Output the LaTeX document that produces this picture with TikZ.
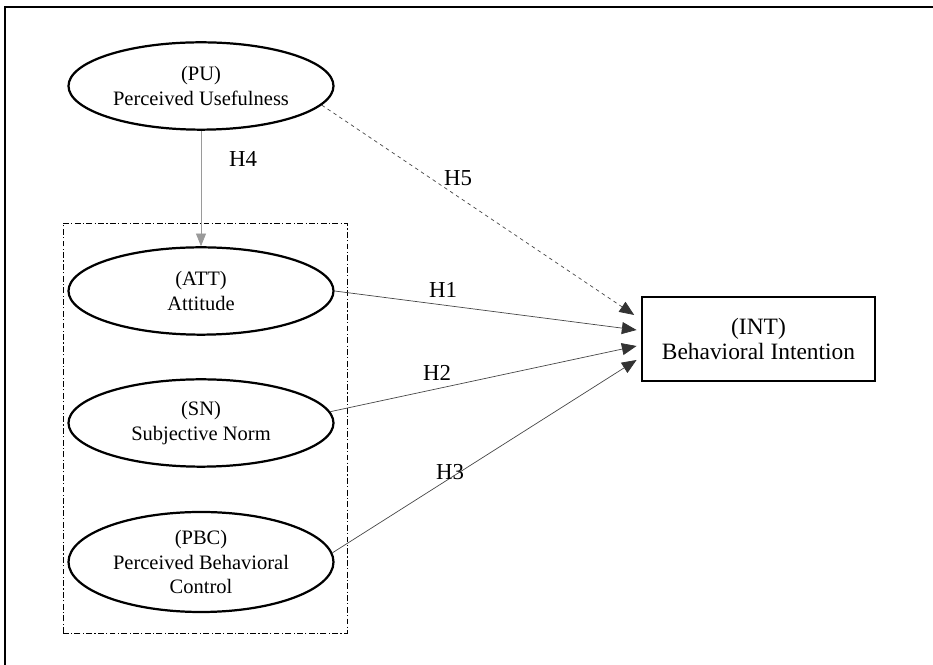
\documentclass[tikz,border=0pt]{standalone}
\usepackage{fontspec}
\setmainfont{Liberation Serif}
\usetikzlibrary{shapes.geometric, arrows.meta}

\definecolor{linegray}{HTML}{474747}
\definecolor{tipgray}{HTML}{333333}
\definecolor{lightgray}{HTML}{9A9A9A}

\tikzset{
    construct/.style={draw, ellipse, line width=1.9pt, minimum width=7.95cm, minimum height=2.62cm,
        inner sep=0pt, align=center, font=\fontsize{17.5}{21}\selectfont},
    outcome/.style={draw, rectangle, line width=1.9pt, minimum width=6.99cm, minimum height=2.52cm,
        align=center, font=\fontsize{20}{21.5}\selectfont},
    link/.style={draw=linegray, line width=0.6pt, -{Triangle[length=0.44cm, width=0.36cm, color=tipgray]}},
    moderate/.style={draw=lightgray, line width=0.6pt, -{Triangle[length=0.38cm, width=0.3cm]}},
    groupline/.style={line width=0.6pt, dash pattern=on 5pt off 2pt on 1pt off 2pt},
    hlabel/.style={inner sep=1pt, font=\fontsize{19.5}{22}\selectfont}
}

\begin{document}
\begin{tikzpicture}
    % Fix the canvas and the outer frame
    \clip (0,0) rectangle (27.99,19.95);
    \draw[line width=1.4pt] (0.15,-1) -- (0.15,19.74) -- (29,19.74);

    % Place the constructs
    \node[construct] (pu) at (6.03,17.37) {(PU)\\Perceived Usefulness};
    \node[construct] (att) at (6.03,11.22) {(ATT)\\Attitude};
    \node[construct] (sn) at (6.03,7.26) {(SN)\\Subjective Norm};
    \node[construct, minimum height=3cm] (pbc) at (6.03,3.09) {(PBC)\\Perceived Behavioral\\Control};
    \node[outcome] (int) at (22.755,9.78) {(INT)\\Behavioral Intention};

    % Group the TPB constructs
    \draw[groupline] (1.89,0.96) rectangle (10.41,13.26);

    % Draw the hypothesised paths
    \draw[moderate] (pu.south) -- (att.north);
    \draw[link, dashed] (pu.-9) -- ([xshift=-0.2cm, yshift=0.72cm]int.west);
    \draw[link] (att.east) -- ([xshift=-0.13cm, yshift=0.27cm]int.west);
    \draw[link] (sn.5) -- ([xshift=-0.13cm, yshift=-0.21cm]int.west);
    \draw[link] (pbc.4) -- ([xshift=-0.13cm, yshift=-0.63cm]int.west);

    % Label the paths
    \node[hlabel] (h4) at (7.29,15.18) {H4};
    \node[hlabel] (h5) at (13.74,14.61) {H5};
    \node[hlabel] (h1) at (13.29,11.25) {H1};
    \node[hlabel] (h2) at (13.11,8.76) {H2};
    \node[hlabel] (h3) at (13.5,5.79) {H3};
\end{tikzpicture}
\end{document}
